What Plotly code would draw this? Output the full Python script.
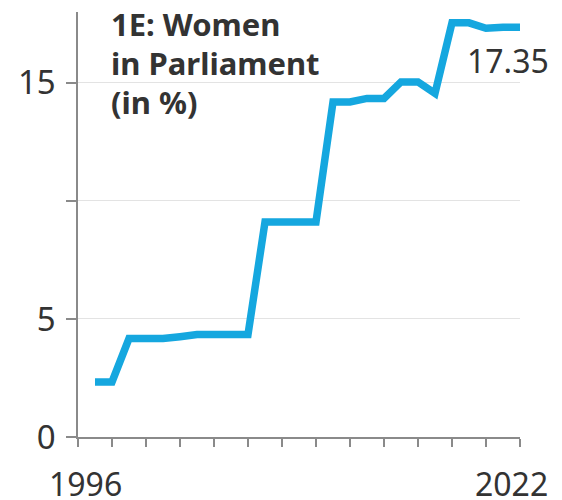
import plotly.graph_objects as go

years = list(range(1997, 2023))
women_pct = [2.33, 2.33, 4.17, 4.17, 4.17, 4.25, 4.34, 4.34, 4.34, 4.34,
             9.11, 9.11, 9.11, 9.11, 14.19, 14.19, 14.34, 14.34, 15.04, 15.04,
             14.55, 17.54, 17.54, 17.31, 17.35, 17.35]

x_tick_vals = list(range(1996, 2023, 2))
x_label_years = [1996, 2022]
x_label_text = ["1996", "2022"]
y_tick_vals = [0, 5, 10, 15]
y_tick_text = ["0", "5", "", "15"]
title_lines = ["1E: Women", "in Parliament", "(in %)"]
end_label = "17.35"

FONT = "Noto Sans"
TXT = "#333333"
AX = "#8a8a8a"
BLUE = "#15a7df"

fig = go.Figure()
fig.add_trace(go.Scatter(x=years, y=women_pct, mode="lines",
                         line=dict(color=BLUE, width=7.5),
                         hoverinfo="skip", showlegend=False))

# page body has an 8px margin, so the figure is 8px smaller and shifted
fig.update_layout(
    width=554, height=492,
    margin=dict(l=70, r=42, t=4, b=63),
    paper_bgcolor="white", plot_bgcolor="white",
    font=dict(family=FONT, color=TXT),
    xaxis=dict(range=[1996, 2022], tickvals=x_tick_vals, showticklabels=False,
               ticks="outside", ticklen=8, tickcolor=AX, tickwidth=1.5,
               showline=True, linecolor=AX, linewidth=1.5,
               showgrid=False, zeroline=False, fixedrange=True),
    yaxis=dict(range=[0, 18], tickvals=y_tick_vals, ticktext=y_tick_text,
               ticks="outside", ticklen=10, tickcolor=AX, tickwidth=1.5,
               tickfont=dict(size=33, color=TXT, family=FONT),
               showline=True, linecolor=AX, linewidth=1.5,
               showgrid=True, gridcolor="#e3e3e3", gridwidth=1,
               zeroline=False, fixedrange=True, ticklabelstandoff=4,
               automargin=False),
)

shifts = [7, -9]
for yr, txt, sh in zip(x_label_years, x_label_text, shifts):
    fig.add_annotation(x=yr, y=0, xref="x", yref="y", text=txt, showarrow=False,
                       xanchor="center", yanchor="middle", xshift=sh, yshift=-46,
                       font=dict(size=32, color=TXT, family=FONT))

# title lines, each placed 39px apart
for i, line in enumerate(title_lines):
    fig.add_annotation(x=1996, y=18, xref="x", yref="y", text="<b>" + line + "</b>",
                       showarrow=False, xanchor="left", yanchor="middle",
                       align="left", xshift=31, yshift=-12 - 39 * i,
                       font=dict(size=31, color=TXT, family=FONT))

fig.add_annotation(x=years[-1], y=women_pct[-1], xref="x", yref="y",
                   text=end_label, showarrow=False, xanchor="center",
                   yanchor="middle", xshift=-12, yshift=-33,
                   font=dict(size=32, color=TXT, family=FONT))

fig.write_html("out.html")
